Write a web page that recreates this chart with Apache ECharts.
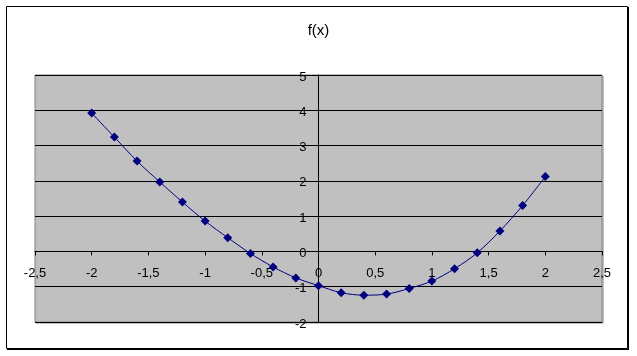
<!DOCTYPE html>
<html>
<head>
<meta charset="utf-8">
<script src="https://cdn.jsdelivr.net/npm/echarts@6/dist/echarts.min.js"></script>
<style>
html,body{margin:0;padding:0;background:#fff;}
#c{width:637px;height:356px;}
</style>
</head>
<body>
<div id="c"></div>
<script>
const title = 'f(x)';
const xValues = [-2, -1.8, -1.6, -1.4, -1.2, -1, -0.8, -0.6, -0.4, -0.2, 0, 0.2, 0.4, 0.6, 0.8, 1, 1.2, 1.4, 1.6, 1.8, 2];
const yValues = [3.92, 3.24, 2.56, 1.97, 1.40, 0.86, 0.39, -0.06, -0.44, -0.75, -0.97, -1.17, -1.24, -1.21, -1.05, -0.84, -0.49, -0.04, 0.58, 1.30, 2.12];
const xAxisRange = { min: -2.5, max: 2.5, step: 0.5 };
const yAxisRange = { min: -2, max: 5, step: 1 };

const seriesData = xValues.map((x, i) => [x, yValues[i]]);
const fmt = v => String(v).replace('.', ',');
const font = 'Liberation Sans, Arial, sans-serif';

const GRID = { left: 35, top: 75, width: 567, height: 247 };
// axes cross at zero: shift each axis inward from its grid edge to the zero of the other axis
const yAxisOffset = -(0 - xAxisRange.min) / (xAxisRange.max - xAxisRange.min) * GRID.width;
const xAxisOffset = -(0 - yAxisRange.min) / (yAxisRange.max - yAxisRange.min) * GRID.height;

const chart = echarts.init(document.getElementById('c'), null, { renderer: 'canvas' });
chart.setOption({
  animation: false,
  backgroundColor: '#ffffff',
  title: {
    text: title, left: 'center', top: 18,
    textStyle: { fontFamily: font, fontSize: 15, fontWeight: 'normal', color: '#000' }
  },
  grid: Object.assign({
    show: true, backgroundColor: '#C0C0C0', borderColor: '#808080', borderWidth: 1
  }, GRID),
  xAxis: {
    type: 'value', min: xAxisRange.min, max: xAxisRange.max, interval: xAxisRange.step,
    position: 'bottom', offset: xAxisOffset, z: 1,
    axisLine: { show: true, onZero: false, lineStyle: { color: '#000', width: 1 } },
    axisTick: { show: true, length: 4, lineStyle: { color: '#000' } },
    axisLabel: { formatter: fmt, color: '#000', fontFamily: font, fontSize: 13, margin: 15, showMinLabel: true, showMaxLabel: true },
    splitLine: { show: false }
  },
  yAxis: {
    type: 'value', min: yAxisRange.min, max: yAxisRange.max, interval: yAxisRange.step,
    position: 'left', offset: yAxisOffset, z: 1,
    axisLine: { show: true, onZero: false, lineStyle: { color: '#000', width: 1 } },
    axisTick: { show: true, length: 4, lineStyle: { color: '#000' } },
    axisLabel: { formatter: fmt, color: '#000', fontFamily: font, fontSize: 13, margin: 12, verticalAlign: 'top', lineHeight: 4 },
    splitLine: { show: true, lineStyle: { color: '#000', width: 1 } }
  },
  graphic: [
    { type: 'rect', shape: { x: 6.5, y: 6.5, width: 621, height: 342 }, style: { fill: null, stroke: '#000', lineWidth: 1 }, silent: true },
    { type: 'line', shape: { x1: 628.5, y1: 7, x2: 628.5, y2: 350 }, style: { stroke: '#000', lineWidth: 1 }, silent: true },
    { type: 'line', shape: { x1: 7, y1: 349.5, x2: 629, y2: 349.5 }, style: { stroke: '#000', lineWidth: 1 }, silent: true },
    { type: 'line', shape: { x1: 603, y1: 76, x2: 603, y2: 323 }, style: { stroke: '#808080', lineWidth: 1 }, silent: true, z: -1 },
    { type: 'line', shape: { x1: 36, y1: 323, x2: 603.5, y2: 323 }, style: { stroke: '#808080', lineWidth: 1 }, silent: true, z: -1 }
  ],
  series: [{
    type: 'line',
    data: seriesData,
    smooth: 0.3,
    symbol: 'diamond',
    symbolSize: 9,
    itemStyle: { color: '#000080' },
    lineStyle: { color: '#000080', width: 1 }
  }]
});
</script>
</body>
</html>
